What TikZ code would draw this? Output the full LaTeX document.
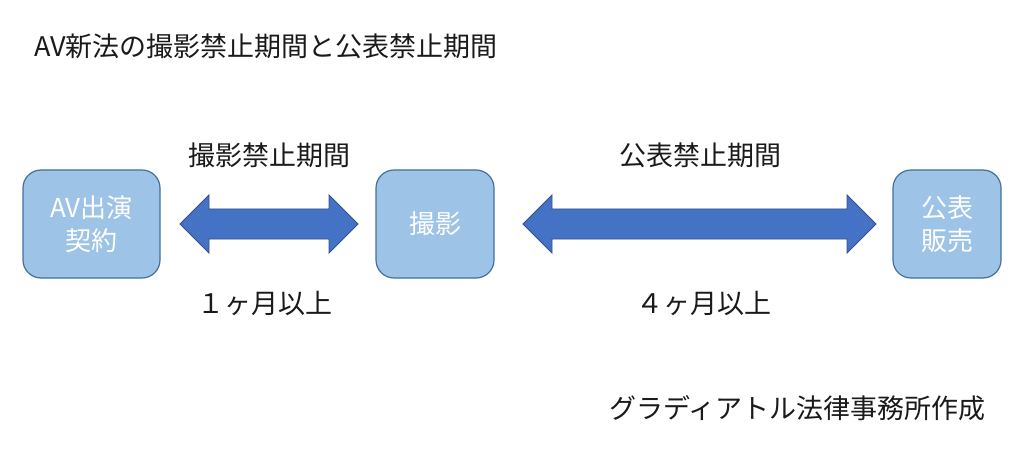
\documentclass[tikz,border=0pt]{standalone}
\usepackage{fontspec}
\setmainfont{Noto Sans CJK JP}
\usetikzlibrary{calc}
\definecolor{boxfill}{HTML}{9DC3E6}
\definecolor{boxline}{HTML}{41719C}
\definecolor{arrfill}{HTML}{4472C4}
\definecolor{arrline}{HTML}{2F528F}
\definecolor{txt}{HTML}{1A1A1A}
\tikzset{
  stagebox/.style={draw=boxline, line width=1.2pt, fill=boxfill, rounded corners=18pt,
    text=white, align=center, inner sep=0pt,
    font=\fontsize{26}{33}\selectfont},
  blockarr/.style={draw=arrline, line width=0.8pt, fill=arrfill},
  lbl/.style={text=txt, inner sep=0pt, font=\fontsize{27}{32}\selectfont},
}
\newcommand{\mkblockarrow}[2]{%
  \draw[blockarr] (#1) -- ($(#1)+(29,-29)$) -- ($(#1)+(29,-15)$) -- ($(#2)+(-29,-15)$)
    -- ($(#2)+(-29,-29)$) -- (#2) -- ($(#2)+(-29,29)$) -- ($(#2)+(-29,15)$)
    -- ($(#1)+(29,15)$) -- ($(#1)+(29,29)$) -- cycle;}
\begin{document}
\begin{tikzpicture}[x=1pt,y=-1pt]
\useasboundingbox (0,0) rectangle (1024,462);
\node[lbl, anchor=west] (title) at (34,46) {AV新法の撮影禁止期間と公表禁止期間};
\node[stagebox, minimum width=137pt, minimum height=108pt] (contract) at (91.5,224) {AV出演\\契約};
\node[stagebox, minimum width=118pt, minimum height=108pt] (shoot) at (435,224) {撮影};
\node[stagebox, minimum width=108pt, minimum height=108pt] (publish) at (947,224) {公表\\販売};
\coordinate (a1l) at (180,224);
\coordinate (a1r) at (358,224);
\coordinate (a2l) at (523,224);
\coordinate (a2r) at (876,224);
\mkblockarrow{a1l}{a1r}
\mkblockarrow{a2l}{a2r}
\node[lbl] (l1) at (269,155) {撮影禁止期間};
\node[lbl] (l2) at (700,155) {公表禁止期間};
\node[lbl] (d1) at (265,303) {１ヶ月以上};
\node[lbl] (d2) at (704,303) {４ヶ月以上};
\node[lbl, anchor=east] (credit) at (986,408) {グラディアトル法律事務所作成};
\end{tikzpicture}
\end{document}
